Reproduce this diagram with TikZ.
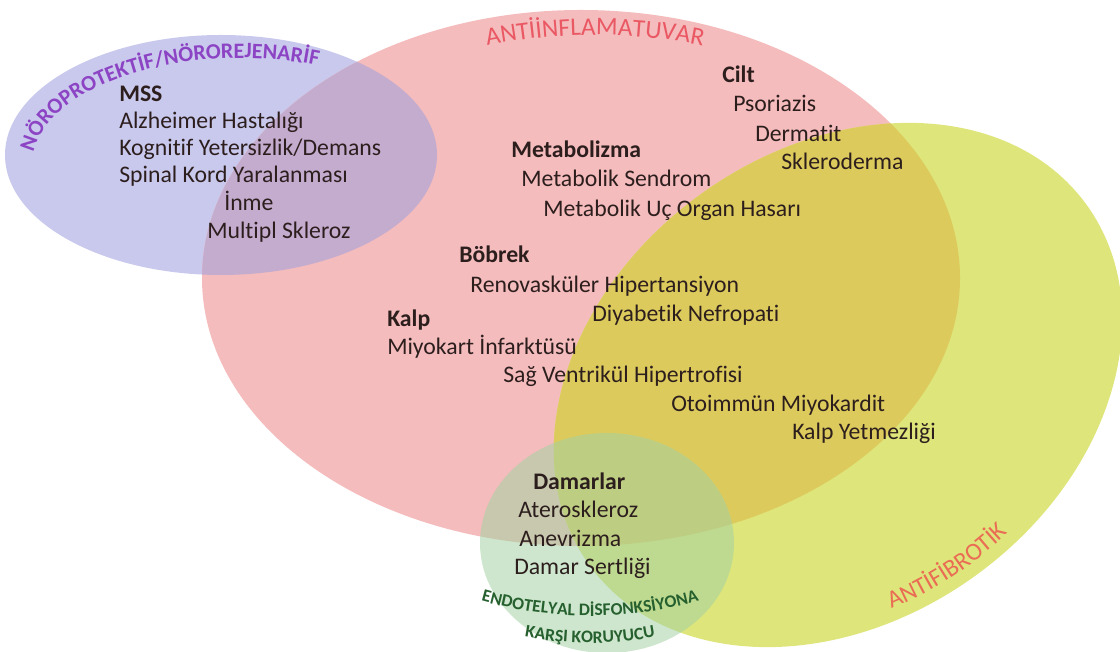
\documentclass[tikz,border=0pt]{standalone}
\usepackage{fontspec}
\setmainfont{Carlito}[Ligatures=NoCommon]
\usetikzlibrary{decorations.text}

\definecolor{neuroFill}{RGB}{201,201,237}
\definecolor{inflFill}{RGB}{244,188,188}
\definecolor{neuroInfl}{RGB}{196,172,207}
\definecolor{fibroFill}{RGB}{222,229,122}
\definecolor{inflFibro}{RGB}{220,203,92}
\definecolor{endoFill}{RGB}{164,210,164}
\definecolor{bodyText}{RGB}{45,30,30}
\definecolor{neuroText}{RGB}{140,68,196}
\definecolor{inflText}{RGB}{234,88,100}
\definecolor{fibroText}{RGB}{234,108,84}
\definecolor{endoText}{RGB}{38,96,46}

\begin{document}
\begin{tikzpicture}[x=0.75pt,y=0.75pt,
  item/.style={anchor=base west, inner sep=0pt, text=bodyText,
    font=\fontsize{17.8}{21}\selectfont},
  head/.style={item, font=\fontsize{17.8}{21}\selectfont\bfseries}]

\useasboundingbox (0,0) rectangle (1120,652);

% --- the four sets ---
\fill[neuroFill] (221,497) ellipse [x radius=216, y radius=120];
\fill[inflFill] (581,374) ellipse [x radius=379, y radius=268];
\begin{scope}
  \clip (581,374) ellipse [x radius=379, y radius=268];
  \fill[neuroInfl] (221,497) ellipse [x radius=216, y radius=120];
\end{scope}
\fill[fibroFill, rotate around={36:(838,267)}] (838,267) ellipse [x radius=307, y radius=235];
\begin{scope}
  \clip (581,374) ellipse [x radius=379, y radius=268];
  \fill[inflFibro, rotate around={36:(838,267)}] (838,267) ellipse [x radius=307, y radius=235];
\end{scope}
\fill[endoFill, fill opacity=0.55] (607,109) ellipse [x radius=127, y radius=110];

% --- set titles along curves ---
\path[decorate, decoration={text along path, text align=center,
    text color=neuroText,
    text={|\fontsize{16.5}{19}\selectfont\bfseries|NÖROPROTEKTİF/NÖROREJENARİF}}]
  ([shift={(240,487)}]184:208 and 107) arc [start angle=184, end angle=62, x radius=208, y radius=107];

\path[decorate, decoration={text along path, text align=center,
    text color=inflText,
    text={|\fontsize{19}{22}\selectfont|ANTİİNFLAMATUVAR}}]
  ([shift={(595,67)}]104:550) arc [start angle=104, end angle=76, radius=550];

\path[rotate around={36:(838,267)}, decorate, decoration={text along path, text align=center,
    text color=fibroText,
    text={|\fontsize{18.5}{21}\selectfont|ANTİFİBROTİK}}]
  ([shift={(838,267)}]234:292 and 223) arc [start angle=234, end angle=298, x radius=292, y radius=223];

\path[decorate, decoration={text along path, text align=center,
    text color=endoText,
    text={|\fontsize{13.2}{15}\selectfont\bfseries|ENDOTELYAL DİSFONKSİYONA}}]
  ([shift={(590,436)}]250:400) arc [start angle=250, end angle=290, radius=400];

\path[decorate, decoration={text along path, text align=center,
    text color=endoText,
    text={|\fontsize{13.2}{15}\selectfont\bfseries|KARŞI KORUYUCU}}]
  ([shift={(590,362)}]250:353) arc [start angle=250, end angle=290, radius=353];

% --- MSS ---
\node[head] (mss)  at (119,550) {MSS};
\node[item] (alz)  at (119,523) {Alzheimer Hastalığı};
\node[item] (kog)  at (119,496) {Kognitif Yetersizlik/Demans};
\node[item] (spin) at (119,469) {Spinal Kord Yaralanması};
\node[item] (inme) at (224,441) {İnme};
\node[item] (ms)   at (207,413) {Multipl Skleroz};

% --- Cilt ---
\node[head] (cilt) at (722,569) {Cilt};
\node[item] (pso)  at (733,540) {Psoriazis};
\node[item] (derm) at (755,510) {Dermatit};
\node[item] (skl)  at (781,482) {Skleroderma};

% --- Metabolizma ---
\node[head] (meta) at (511,494) {Metabolizma};
\node[item] (msen) at (521,465) {Metabolik Sendrom};
\node[item] (muoh) at (543,435) {Metabolik Uç Organ Hasarı};

% --- Böbrek ---
\node[head] (bob)  at (459,389) {Böbrek};
\node[item] (reno) at (470,359) {Renovasküler Hipertansiyon};
\node[item] (diy)  at (592,330) {Diyabetik Nefropati};

% --- Kalp ---
\node[head] (kalp) at (387,325) {Kalp};
\node[item] (mi)   at (387,297) {Miyokart İnfarktüsü};
\node[item] (svh)  at (503,269) {Sağ Ventrikül Hipertrofisi};
\node[item] (oto)  at (671,240) {Otoimmün Miyokardit};
\node[item] (ky)   at (792,212) {Kalp Yetmezliği};

% --- Damarlar ---
\node[head] (dam)  at (533,162) {Damarlar};
\node[item] (ater) at (518,134) {Ateroskleroz};
\node[item] (anev) at (519,105) {Anevrizma};
\node[item] (dser) at (514,77)  {Damar Sertliği};

\end{tikzpicture}
\end{document}
